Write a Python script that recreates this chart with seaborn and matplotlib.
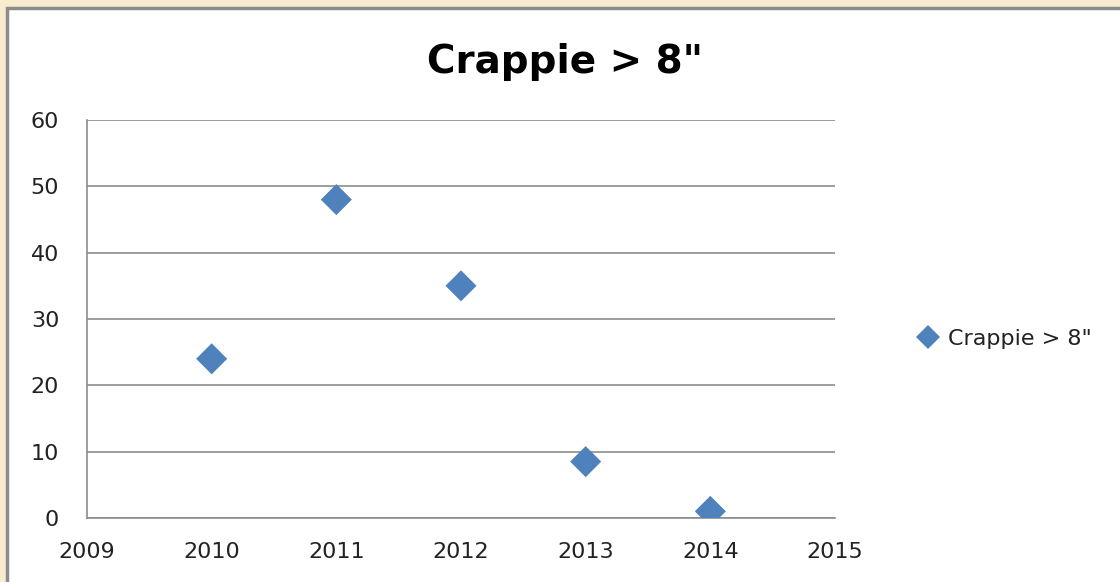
import numpy as np
import pandas as pd
import matplotlib
matplotlib.use('Agg')
import matplotlib.pyplot as plt
import seaborn as sns
from matplotlib.patches import Rectangle

# data
years = [2010, 2011, 2012, 2013, 2014]
counts = [24, 48, 35, 8.5, 1]
series_name = 'Crappie > 8"'
x_ticks = [2009, 2010, 2011, 2012, 2013, 2014, 2015]
y_ticks = [0, 10, 20, 30, 40, 50, 60]

df = pd.DataFrame({'year': years, 'count': counts, 'series': series_name})

sns.set_style('white')
plt.rcParams['font.family'] = ['DejaVu Sans']

fig = plt.figure(figsize=(11.2, 5.82), dpi=100)
fig.patch.set_facecolor('#f9ebcd')
# white chart panel with grey border (behind the axes)
fig.patches.append(Rectangle((7 / 1120, -0.05), 1.2, 1 - 8 / 582 + 0.05,
                             transform=fig.transFigure, facecolor='white',
                             edgecolor='#8c8c8c', linewidth=2.5, zorder=-5))

ax = fig.add_axes([87 / 1120, 1 - 518 / 582, (835 - 87) / 1120, (518 - 120) / 582])
ax.set_facecolor('none')

sns.scatterplot(data=df, x='year', y='count', hue='series', marker='D', s=250,
                palette=['#4f81bd'], edgecolor='none', ax=ax, zorder=3)

ax.set_xlim(2009, 2015)
ax.set_ylim(0, 60)
ax.set_xticks(x_ticks)
ax.set_yticks(y_ticks)
ax.set_xticklabels([str(t) for t in x_ticks])
ax.set_xlabel('')
ax.set_ylabel('')
ax.yaxis.grid(True, color='#8c8c8c', linewidth=1.2)
ax.xaxis.grid(False)
for side in ['top', 'right']:
    ax.spines[side].set_visible(False)
for side in ['left', 'bottom']:
    ax.spines[side].set_color('#8c8c8c')
    ax.spines[side].set_linewidth(1.2)
ax.tick_params(axis='both', which='major', length=7, width=1.2, color='#8c8c8c',
               labelsize=16, labelcolor='#222222', direction='out')
ax.tick_params(axis='y', pad=13)
ax.tick_params(axis='x', pad=10)
ax.set_axisbelow(True)

fig.text(565 / 1120, 1 - 62 / 582, series_name, ha='center', va='center',
         fontsize=28, fontweight='bold', color='black', family='DejaVu Sans')

handles, labels = ax.get_legend_handles_labels()
leg = ax.legend(handles, labels, loc='center left', bbox_to_anchor=(1.068, 0.45),
                frameon=False, handletextpad=-0.1, markerscale=0.75,
                prop={'family': 'DejaVu Sans', 'size': 16})
for t in leg.get_texts():
    t.set_color('#222222')

fig.savefig('out.png', dpi=100, facecolor=fig.get_facecolor())
